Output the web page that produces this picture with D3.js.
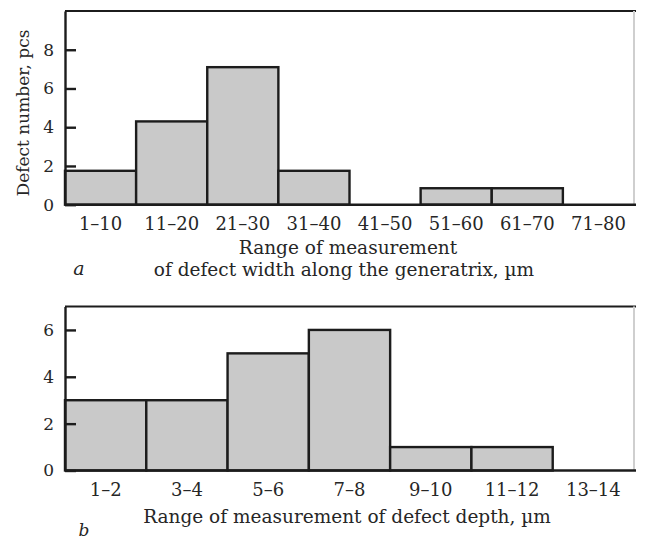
<!DOCTYPE html>
<html>
<head>
<meta charset="utf-8">
<script src="https://cdn.jsdelivr.net/npm/d3@7/dist/d3.min.js"></script>
<style>
  html, body { margin: 0; padding: 0; background: #fff; }
  svg { display: block; }
  text { font-family: "DejaVu Serif", "Liberation Serif", serif; fill: #262626; }
</style>
</head>
<body>
<svg id="chart" width="648" height="543"></svg>
<script>
// ---- Data ----
const widthCategories = ["1–10", "11–20", "21–30", "31–40", "41–50", "51–60", "61–70", "71–80"];
const widthCounts = [1.75, 4.3, 7.1, 1.75, 0, 0.85, 0.85, 0];
const widthTicks = [0, 2, 4, 6, 8];

const depthCategories = ["1–2", "3–4", "5–6", "7–8", "9–10", "11–12", "13–14"];
const depthCounts = [3, 3, 5, 6, 1, 1, 0];
const depthTicks = [0, 2, 4, 6];

const yLabelText = "Defect number, pcs";
const widthTitle = ["Range of measurement", "of defect width along the generatrix, µm"];
const depthTitle = "Range of measurement of defect depth, µm";

// ---- Drawing ----
const svg = d3.select("#chart");
const TICK_FS = 18;
const YTICK_FS = 17;
const TITLE_FS = 18.5;

function panel(opts) {
  const {cats, vals, ticks, yMax, left, right, top, bottom} = opts;
  const x = d3.scaleBand().domain(cats).range([left, right]).padding(0);
  const y = d3.scaleLinear().domain([0, yMax]).range([bottom, top]);
  const g = svg.append("g");

  // bars
  g.selectAll("rect.bar")
    .data(cats.map((c, i) => ({c, v: vals[i]})).filter(d => d.v > 0))
    .join("rect")
    .attr("class", "bar")
    .attr("x", d => x(d.c))
    .attr("width", x.bandwidth())
    .attr("y", d => y(d.v))
    .attr("height", d => y(0) - y(d.v))
    .attr("fill", "#c9c9c9")
    .attr("stroke", "#1c1c1c")
    .attr("stroke-width", 2.4);

  // frame
  g.append("line").attr("x1", left).attr("x2", 636).attr("y1", top).attr("y2", top)
    .attr("stroke", "#1c1c1c").attr("stroke-width", 2.2);
  g.append("line").attr("x1", right).attr("x2", right).attr("y1", top).attr("y2", bottom)
    .attr("stroke", "#cfcfcf").attr("stroke-width", 2);

  // y axis
  const ya = g.append("g").attr("transform", `translate(${left},0)`)
    .call(d3.axisLeft(y).tickValues(ticks).tickSizeInner(-11).tickSizeOuter(0).tickPadding(11).tickFormat(d3.format("d")));
  ya.select(".domain").attr("stroke", "#1c1c1c").attr("stroke-width", 2.4);
  ya.selectAll(".tick line").attr("stroke", "#1c1c1c").attr("stroke-width", 2.4);
  ya.selectAll(".tick text").attr("font-size", YTICK_FS).style("font-family", "DejaVu Serif, serif").attr("fill", "#262626");

  // x axis
  const xa = g.append("g").attr("transform", `translate(0,${bottom})`)
    .call(d3.axisBottom(x).tickSize(0).tickPadding(13));
  xa.select(".domain").remove();
  xa.selectAll(".tick text").attr("font-size", TICK_FS).style("font-family", "DejaVu Serif, serif").attr("fill", "#262626");
  g.append("line").attr("x1", left).attr("x2", 636).attr("y1", bottom).attr("y2", bottom)
    .attr("stroke", "#1c1c1c").attr("stroke-width", 2.6);
  return g;
}

panel({cats: widthCategories, vals: widthCounts, ticks: widthTicks, yMax: 10,
       left: 65, right: 634, top: 11, bottom: 204.7});
panel({cats: depthCategories, vals: depthCounts, ticks: depthTicks, yMax: 7,
       left: 65, right: 634, top: 306.5, bottom: 470.5});

// axis titles
svg.append("text").attr("transform", "translate(29,113) rotate(-90)")
  .attr("text-anchor", "middle").attr("font-size", 17).text(yLabelText);
svg.append("text").attr("x", 348).attr("y", 254).attr("text-anchor", "middle")
  .attr("font-size", TITLE_FS).text(widthTitle[0]);
svg.append("text").attr("x", 344).attr("y", 276).attr("text-anchor", "middle")
  .attr("font-size", TITLE_FS).text(widthTitle[1]);
svg.append("text").attr("x", 79).attr("y", 275).attr("text-anchor", "middle")
  .attr("font-size", 19).attr("font-style", "italic").text("a");
svg.append("text").attr("x", 84).attr("y", 536).attr("text-anchor", "middle")
  .attr("font-size", 17).attr("font-style", "italic").text("b");
svg.append("text").attr("x", 347).attr("y", 523).attr("text-anchor", "middle")
  .attr("font-size", TITLE_FS).text(depthTitle);

// cropped right margin as in the reference
svg.append("rect").attr("x", 636).attr("y", 0).attr("width", 12).attr("height", 543).attr("fill", "#fff");
</script>
</body>
</html>
